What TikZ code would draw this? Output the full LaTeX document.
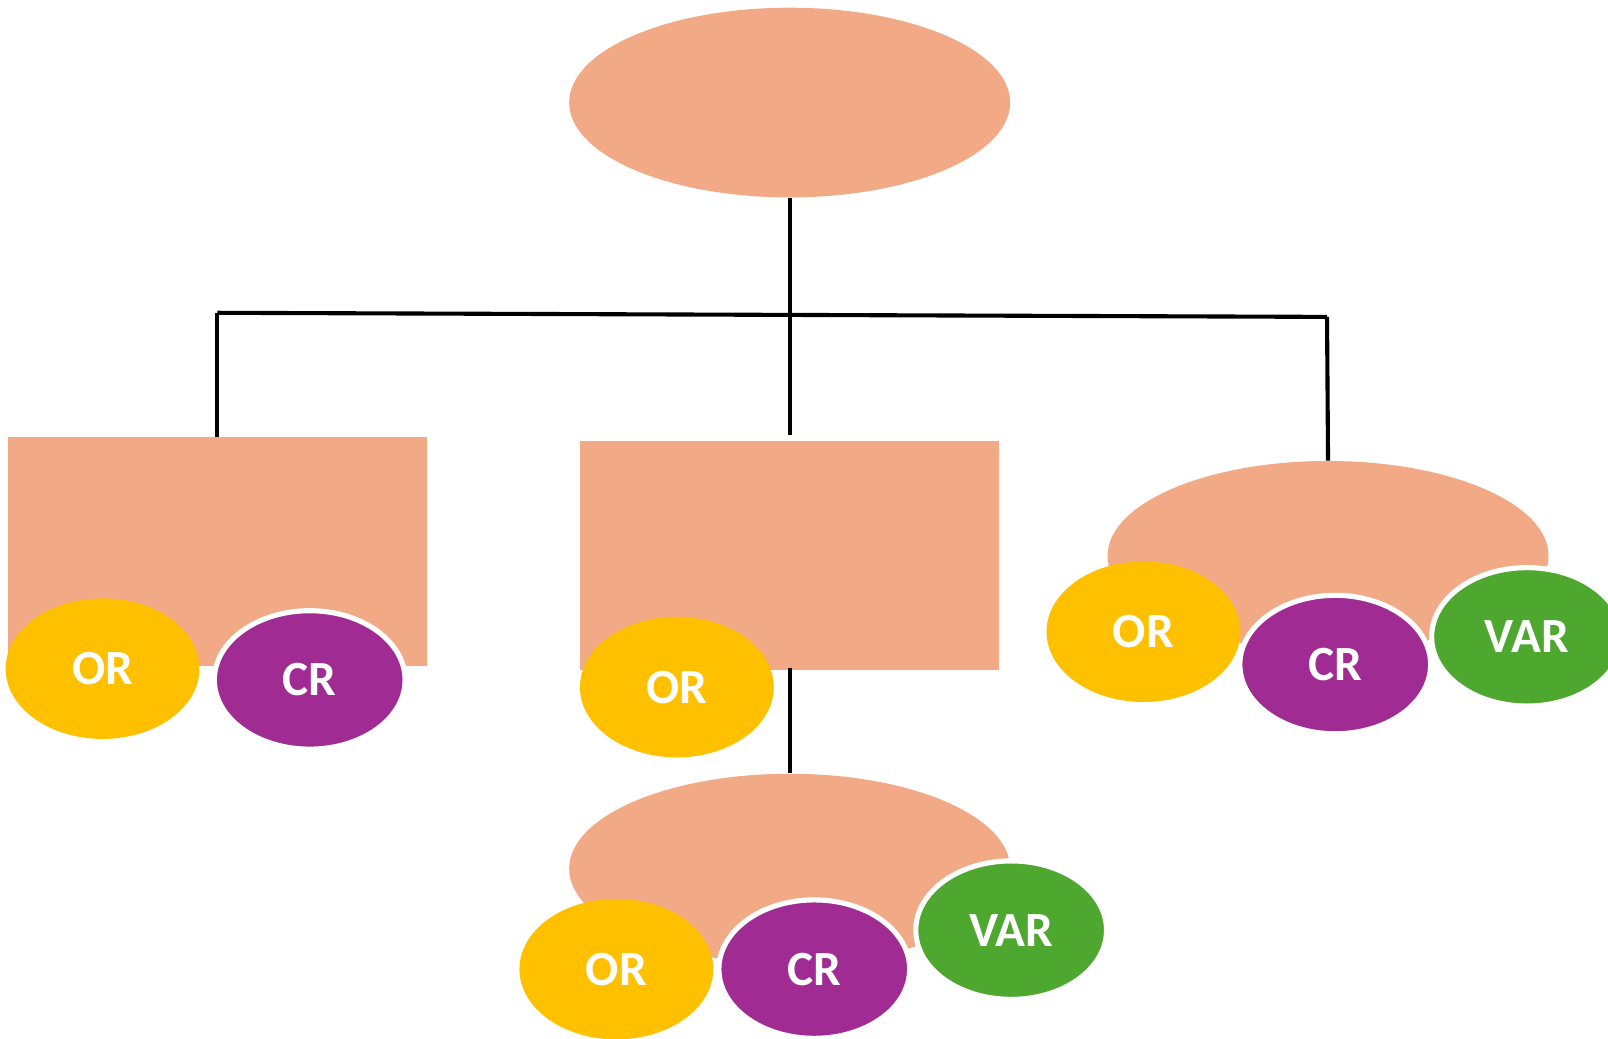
\documentclass[tikz,border=0pt]{standalone}
\usepackage{fontspec}
\setmainfont{Carlito}
\usetikzlibrary{shapes.geometric}
\definecolor{salmon}{HTML}{F1AA85}
\definecolor{orfill}{HTML}{FFC000}
\definecolor{crfill}{HTML}{A02B93}
\definecolor{varfill}{HTML}{4EA72E}
\begin{document}
\begin{tikzpicture}[
    x = 0.5pt, y = -0.5pt,
    big/.style = {ellipse, fill = salmon, minimum width = 215pt, minimum height = 92.5pt, inner sep = 0pt},
    blk/.style = {rectangle, fill = salmon, minimum width = 204pt, minimum height = 111.5pt, inner sep = 0pt},
    tag/.style = {ellipse, inner sep = 0pt, text = white, font = \bfseries\fontsize{24}{28}\selectfont},
    orv/.style = {tag, fill = orfill, minimum width = 94.5pt, minimum height = 68.5pt},
    crv/.style = {tag, fill = crfill, draw = white, line width = 2.5pt, minimum width = 93pt, minimum height = 67.5pt},
    varv/.style = {crv, fill = varfill},
    link/.style = {draw, line width = 2pt},
  ]
  \path[use as bounding box, fill = white] (0,0) rectangle (1568,1013);

  \node[big] (top) at (770,100) {};
  \node[blk] (left) at (212,538) {};
  \node[blk] (mid) at (770,542) {};
  \node[big] (right) at (1295,542) {};
  \node[big] (low) at (770,847) {};

  \coordinate (busL) at (212,305);
  \coordinate (busR) at (1294,309);
  \draw[link, shorten >= 3pt] (top.south) -- (mid.north);
  \draw[link] (busL) -- (busR);
  \draw[link] (busL) -- (left.north);
  \draw[link] (busR) -- (right.north);
  \draw[link, shorten <= -1.5pt] (mid.south) -- (low.north);

  % left box
  \node[orv] (orL) at (100,652) {OR};
  \node[crv] (crL) at (302,663) {CR};
  % middle box
  \node[orv] (orM) at (660,670) {OR};
  % right ellipse
  \node[orv] (orR) at (1115,616) {OR};
  \node[crv] (crR) at (1302,648) {CR};
  \node[varv] (varR) at (1489,621) {VAR};
  % bottom ellipse
  \node[orv] (orB) at (601,945) {OR};
  \node[crv] (crB) at (794,945) {CR};
  \node[varv] (varB) at (986,907) {VAR};
\end{tikzpicture}
\end{document}
